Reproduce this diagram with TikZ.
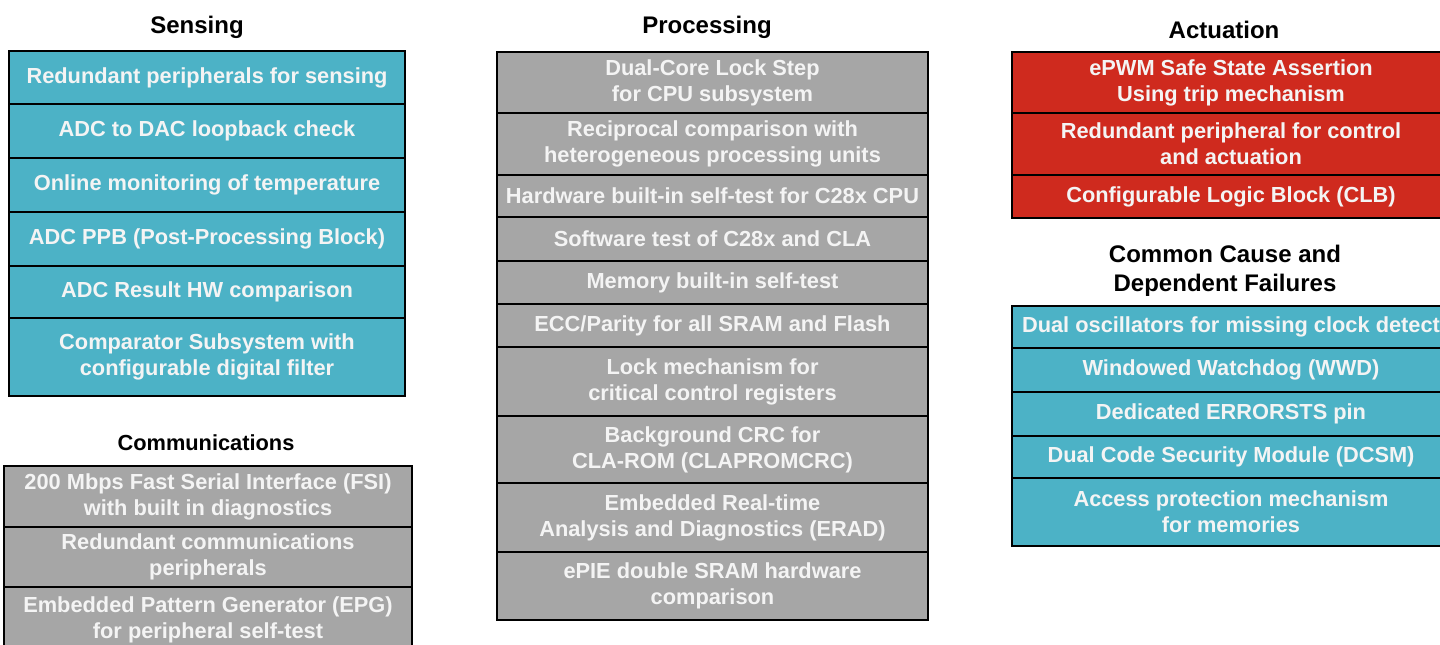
\documentclass[tikz,border=0pt]{standalone}
\usepackage{fontspec}
\setmainfont{Liberation Sans}
\definecolor{tealc}{RGB}{76,178,198}
\definecolor{grayc}{RGB}{166,166,166}
\definecolor{redc}{RGB}{207,42,30}
\definecolor{txtc}{RGB}{244,244,244}
\newcommand\cellbox[7]{\node[cell,#2,minimum width={#5pt-#3pt},minimum height={#6pt-#4pt}] (#1) at ({(#3+#5)/2},{(#4+#6)/2}) {#7};}
\tikzset{
  cell/.style={draw=black,line width=2pt,inner sep=0pt,align=center,text=txtc,
    font=\fontsize{21.8}{26}\selectfont\bfseries},
  tealcell/.style={fill=tealc},
  graycell/.style={fill=grayc},
  redcell/.style={fill=redc},
  title/.style={align=center,text=black,font=\fontsize{24}{28.5}\selectfont\bfseries},
  subtitle/.style={align=center,text=black,font=\fontsize{21.8}{26}\selectfont\bfseries}
}
\begin{document}
\begin{tikzpicture}[x=1pt,y=-1pt]
\useasboundingbox[fill=white] (0,0) rectangle (1440,645);
\begin{scope}
\clip (0,0) rectangle (1440,645);
% Titles
\node[title] (tsens) at (197,27.5) {Sensing};
\node[title] (tproc) at (707,27.5) {Processing};
\node[title] (tact) at (1224,29.5) {Actuation};
\node[subtitle] (tcomm) at (206,443) {Communications};
\node[title] (tccf) at (1225,271) {Common Cause and\\Dependent Failures};
% Sensing
\cellbox{s1}{tealcell}{9}{51}{405}{104}{Redundant peripherals for sensing}
\cellbox{s2}{tealcell}{9}{104}{405}{158}{ADC to DAC loopback check}
\cellbox{s3}{tealcell}{9}{158}{405}{212}{Online monitoring of temperature}
\cellbox{s4}{tealcell}{9}{212}{405}{266}{ADC PPB (Post-Processing Block)}
\cellbox{s5}{tealcell}{9}{266}{405}{318}{ADC Result HW comparison}
\cellbox{s6}{tealcell}{9}{318}{405}{396}{Comparator Subsystem with\\configurable digital filter}
% Communications
\cellbox{c1}{graycell}{4}{466}{412}{527}{200 Mbps Fast Serial Interface (FSI)\\with built in diagnostics}
\cellbox{c2}{graycell}{4}{527}{412}{587}{Redundant communications\\peripherals}
\cellbox{c3}{graycell}{4}{587}{412}{652}{Embedded Pattern Generator (EPG)\\for peripheral self-test}
% Processing
\cellbox{p1}{graycell}{497}{52}{928}{113}{Dual-Core Lock Step\\for CPU subsystem}
\cellbox{p2}{graycell}{497}{113}{928}{175}{Reciprocal comparison with\\heterogeneous processing units}
\cellbox{p3}{graycell}{497}{175}{928}{217}{Hardware built-in self-test for C28x CPU}
\cellbox{p4}{graycell}{497}{217}{928}{261}{Software test of C28x and CLA}
\cellbox{p5}{graycell}{497}{261}{928}{304}{Memory built-in self-test}
\cellbox{p6}{graycell}{497}{304}{928}{347}{ECC/Parity for all SRAM and Flash}
\cellbox{p7}{graycell}{497}{347}{928}{416}{Lock mechanism for\\critical control registers}
\cellbox{p8}{graycell}{497}{416}{928}{483}{Background CRC for\\CLA-ROM (CLAPROMCRC)}
\cellbox{p9}{graycell}{497}{483}{928}{552}{Embedded Real-time\\Analysis and Diagnostics (ERAD)}
\cellbox{p10}{graycell}{497}{552}{928}{620}{ePIE double SRAM hardware\\comparison}
% Actuation
\cellbox{a1}{redcell}{1012}{52}{1450}{113}{ePWM Safe State Assertion\\Using trip mechanism}
\cellbox{a2}{redcell}{1012}{113}{1450}{175}{Redundant peripheral for control\\and actuation}
\cellbox{a3}{redcell}{1012}{175}{1450}{218}{Configurable Logic Block (CLB)}
% Common cause
\cellbox{f1}{tealcell}{1012}{306}{1450}{348}{Dual oscillators for missing clock detect}
\cellbox{f2}{tealcell}{1012}{348}{1450}{392}{Windowed Watchdog (WWD)}
\cellbox{f3}{tealcell}{1012}{392}{1450}{436}{Dedicated ERRORSTS pin}
\cellbox{f4}{tealcell}{1012}{436}{1450}{478}{Dual Code Security Module (DCSM)}
\cellbox{f5}{tealcell}{1012}{478}{1450}{546}{Access protection mechanism\\for memories}
\end{scope}
\end{tikzpicture}
\end{document}
